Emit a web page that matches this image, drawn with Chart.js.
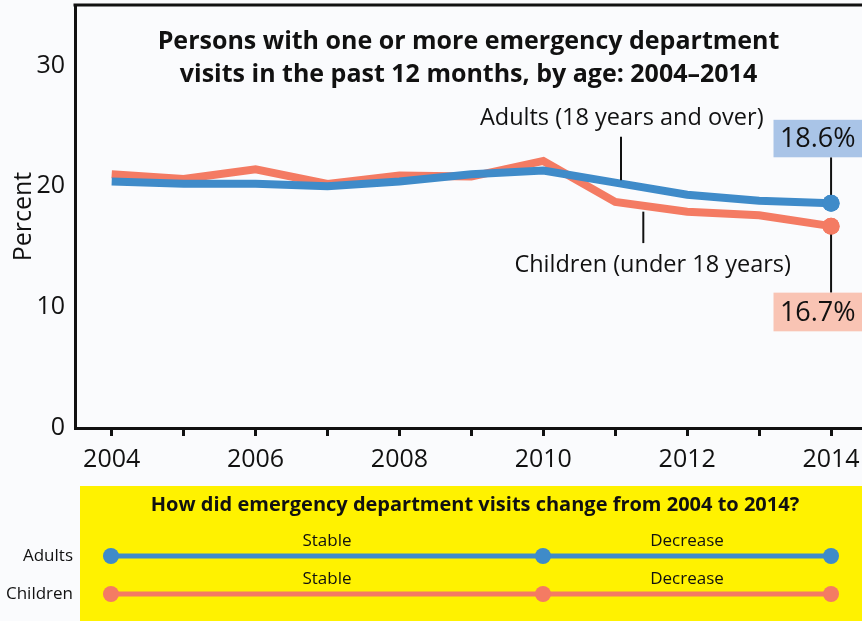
<!DOCTYPE html>
<html>
<head>
<meta charset="utf-8">
<script src="https://cdn.jsdelivr.net/npm/chart.js@4.4.1/dist/chart.umd.min.js"></script>
<style>
  body { margin: 0; background: #fafbfd; }
  #wrap { position: relative; width: 862px; height: 621px; overflow: hidden; }
  #main { position: absolute; left: 0; top: 0; }
  #summary { position: absolute; left: 0; top: 486px; }
</style>
</head>
<body>
<div id="wrap">
  <canvas id="main" width="862" height="480"></canvas>
  <canvas id="summary" width="862" height="135"></canvas>
</div>
<script>
// Dữ liệu
const years = [2004, 2005, 2006, 2007, 2008, 2009, 2010, 2011, 2012, 2013, 2014];
const adults = [20.4, 20.2, 20.2, 20.0, 20.4, 21.0, 21.3, 20.3, 19.3, 18.8, 18.6];
const children = [21.0, 20.6, 21.4, 20.2, 20.9, 20.8, 22.1, 18.7, 17.9, 17.6, 16.7];
const yTicks = [0, 10, 20, 30];

const groups = ['Adults', 'Children'];
const breakYears = [2004, 2010, 2014];
const trendLabels = ['Stable', 'Decrease'];

const BLUE = '#3f8bc9';
const RED = '#f47b63';
const FONT = '"Open Sans", "Noto Sans", sans-serif';

// bỏ phần đệm tự động cho nhãn trục
const noPad = s => { s.paddingTop = 0; s.paddingBottom = 0; s.paddingLeft = 0; s.paddingRight = 0; };

// Chú thích trên biểu đồ chính
const mainPlugin = {
  id: 'mainDecor',
  afterDatasetsDraw(chart) {
    const ctx = chart.ctx;
    const x = chart.scales.x, y = chart.scales.y;
    const a = chart.chartArea;
    ctx.save();
    // đường viền trên
    ctx.strokeStyle = '#111';
    ctx.lineWidth = 3;
    ctx.beginPath();
    ctx.moveTo(a.left - 1.5, a.top);
    ctx.lineTo(a.right, a.top);
    ctx.stroke();

    // tiêu đề
    ctx.fillStyle = '#111';
    ctx.textAlign = 'center';
    ctx.textBaseline = 'middle';
    ctx.font = 'bold 25px ' + FONT;
    const cx = (a.left + a.right) / 2;
    ctx.fillText('Persons with one or more emergency department', cx, 42);
    ctx.fillText('visits in the past 12 months, by age: 2004\u20132014', cx, 75);

    // nhãn chuỗi + đường dẫn
    ctx.font = '23.5px ' + FONT;
    ctx.fillText('Adults (18 years and over)', x.getPixelForValue(2011.09), y.getPixelForValue(25.6));
    ctx.fillText('Children (under 18 years)', x.getPixelForValue(2011.52), y.getPixelForValue(13.5));
    ctx.lineWidth = 2;
    ctx.strokeStyle = '#111';
    const seg = (xv, y1, y2) => {
      ctx.beginPath();
      ctx.moveTo(x.getPixelForValue(xv), y.getPixelForValue(y1));
      ctx.lineTo(x.getPixelForValue(xv), y.getPixelForValue(y2));
      ctx.stroke();
    };
    seg(2011.08, 24.1, 20.5);
    seg(2011.39, 17.9, 15.3);
    const last = years.length - 1;
    seg(years[last], 22.4, adults[last]);
    seg(years[last], children[last], 11.2);

    // hộp giá trị cuối
    const box = (val, yTop, yBot, fill) => {
      const t = y.getPixelForValue(yTop), b = y.getPixelForValue(yBot);
      const l = x.getPixelForValue(2013.2);
      ctx.fillStyle = fill;
      ctx.fillRect(l, t, a.right - l, b - t);
      ctx.fillStyle = '#111';
      ctx.font = '27px ' + FONT;
      ctx.fillText(val.toFixed(1) + '%', (l + a.right) / 2, (t + b) / 2 + 1);
    };
    box(adults[last], 25.5, 22.4, '#a9c4e7');
    box(children[last], 11.2, 8.0, '#f9c4b4');

    // vẽ lại điểm cuối lên trên đường dẫn
    chart.getDatasetMeta(0).data[last].draw(ctx);
    chart.getDatasetMeta(1).data[last].draw(ctx);
    ctx.restore();
  }
};

const lastOnly = arr => arr.map((v, i) => i === arr.length - 1 ? 8.5 : 0);

new Chart(document.getElementById('main'), {
  type: 'line',
  data: {
    datasets: [
      {
        label: 'Adults (18 years and over)',
        data: years.map((yr, i) => ({ x: yr, y: adults[i] })),
        borderColor: BLUE, backgroundColor: BLUE,
        borderWidth: 8, pointRadius: lastOnly(years), pointBorderWidth: 0,
        tension: 0
      },
      {
        label: 'Children (under 18 years)',
        data: years.map((yr, i) => ({ x: yr, y: children[i] })),
        borderColor: RED, backgroundColor: RED,
        borderWidth: 8, pointRadius: lastOnly(years), pointBorderWidth: 0,
        tension: 0
      }
    ]
  },
  options: {
    responsive: false,
    animation: false,
    layout: { autoPadding: false, padding: { top: 5, left: 0, right: 0, bottom: 0 } },
    plugins: { legend: { display: false }, tooltip: { enabled: false } },
    scales: {
      x: {
        type: 'linear',
        min: 2003.49, max: 2014.43,
        grid: { display: true, drawOnChartArea: false, drawTicks: true, tickLength: 8, lineWidth: 3, color: '#111' },
        border: { display: true, width: 3, color: '#111' },
        ticks: {
          stepSize: 1, includeBounds: false, autoSkip: false, maxRotation: 0,
          color: '#111', font: { size: 25, family: FONT }, padding: 9,
          callback: v => (v % 2 === 0 ? String(v) : '')
        },
        afterFit(s) { s.height = 52; noPad(s); }
      },
      y: {
        min: 0, max: 35,
        afterBuildTicks(s) { s.ticks = yTicks.map(v => ({ value: v })); },
        grid: { display: false, drawTicks: false },
        border: { display: true, width: 3, color: '#111' },
        ticks: { color: '#111', font: { size: 25, family: FONT }, padding: 10 },
        title: { display: true, text: 'Percent', color: '#111', font: { size: 25, family: FONT }, padding: { top: 9 } },
        afterFit(s) { s.width = 75; noPad(s); }
      }
    }
  },
  plugins: [mainPlugin]
});

// Bảng tóm tắt xu hướng
const summaryPlugin = {
  id: 'summaryDecor',
  beforeDraw(chart) {
    const ctx = chart.ctx, a = chart.chartArea;
    ctx.save();
    ctx.fillStyle = '#fff200';
    ctx.fillRect(a.left, 0, chart.width - a.left, chart.height);
    ctx.restore();
  },
  afterDatasetsDraw(chart) {
    const ctx = chart.ctx, a = chart.chartArea;
    const x = chart.scales.x, y = chart.scales.y;
    ctx.save();
    ctx.fillStyle = '#111';
    ctx.textAlign = 'center';
    ctx.textBaseline = 'middle';
    ctx.font = 'bold 20px ' + FONT;
    ctx.fillText('How did emergency department visits change from 2004 to 2014?', (a.left + a.right) / 2 + 4, 19);
    ctx.font = '17px ' + FONT;
    groups.forEach((g, gi) => {
      const py = y.getPixelForValue(gi + 1);
      for (let k = 0; k < trendLabels.length; k++) {
        const mid = (breakYears[k] + breakYears[k + 1]) / 2;
        ctx.fillText(trendLabels[k], x.getPixelForValue(mid), py - 15);
      }
    });
    ctx.restore();
  }
};

new Chart(document.getElementById('summary'), {
  type: 'line',
  data: {
    datasets: groups.map((g, gi) => ({
      label: g,
      data: breakYears.map(yr => ({ x: yr, y: gi + 1 })),
      borderColor: gi === 0 ? BLUE : RED,
      backgroundColor: gi === 0 ? BLUE : RED,
      borderWidth: 5, pointRadius: 8, pointBorderWidth: 0, tension: 0
    }))
  },
  options: {
    responsive: false,
    animation: false,
    layout: { autoPadding: false, padding: 0 },
    plugins: { legend: { display: false }, tooltip: { enabled: false } },
    scales: {
      x: { type: 'linear', display: false, min: 2003.57, max: 2014.43, afterFit: noPad },
      y: {
        reverse: true, min: -0.842, max: 2.711,
        afterBuildTicks(s) { s.ticks = groups.map((g, i) => ({ value: i + 1 })); },
        grid: { display: false, drawTicks: false },
        border: { display: false },
        ticks: { color: '#111', font: { size: 17, family: FONT }, padding: 7, callback: v => groups[v - 1] },
        afterFit(s) { s.width = 80; noPad(s); }
      }
    }
  },
  plugins: [summaryPlugin]
});
</script>
</body>
</html>
